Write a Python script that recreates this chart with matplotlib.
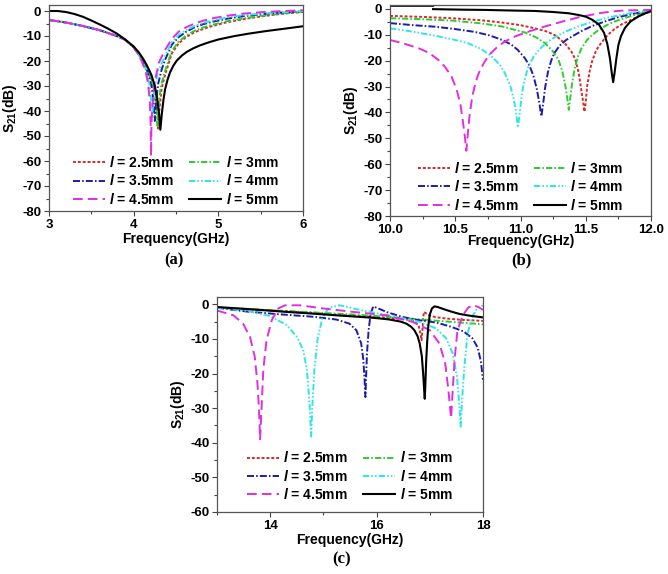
import numpy as np
import matplotlib
matplotlib.use('Agg')
import matplotlib.pyplot as plt
from matplotlib.ticker import MultipleLocator, FormatStrFormatter

# curve labels / looks (same order in every panel)
lengths = ['2.5mm', '3mm', '3.5mm', '4mm', '4.5mm', '5mm']
colors = ['#D42A2A', '#2ECC2E', '#1C1CA8', '#2EE6E6', '#E02EE0', '#000000']
styles = [(0, (1.5, 1.0)), (0, (3.2, 1.1, 0.8, 1.1)), (0, (3.6, 1.1, 0.8, 1.1)),
          (0, (3.2, 1.1, 0.8, 1.1, 0.8, 1.1)), (0, (5.0, 2.6)), '-']

# ---- panel (a): 3-6 GHz, (freq GHz, S21 dB)
a_25 = [(3.0, -3.6), (3.2, -4.6), (3.4, -6.0), (3.6, -7.7), (3.8, -10.0), (3.9, -11.5), (4.0, -14.5),
        (4.06, -17.3), (4.1, -19.5), (4.17, -23.5), (4.23, -29), (4.27, -36), (4.29, -47), (4.305, -39),
        (4.33, -31), (4.37, -25.6), (4.45, -17), (4.53, -13), (4.62, -10.4), (4.72, -8.5), (4.82, -7.2),
        (4.92, -6.1), (5.1, -4.5), (5.31, -3.2), (5.5, -2.2), (5.71, -1.3), (5.85, -0.8), (6.0, -0.4)]
a_3 = [(3.0, -3.6), (3.2, -4.6), (3.4, -6.0), (3.6, -7.7), (3.8, -10.0), (3.9, -11.5), (4.0, -14.5),
       (4.06, -17.3), (4.1, -19.5), (4.17, -24), (4.23, -30), (4.265, -37), (4.28, -46), (4.295, -38),
       (4.32, -30), (4.37, -24), (4.45, -16), (4.53, -12.3), (4.62, -9.8), (4.72, -7.9), (4.82, -6.6),
       (4.92, -5.6), (5.1, -4.1), (5.31, -2.9), (5.5, -2.0), (5.71, -1.2), (5.85, -0.7), (6.0, -0.3)]
a_35 = [(3.0, -3.6), (3.2, -4.6), (3.4, -6.0), (3.6, -7.7), (3.8, -10.0), (3.9, -11.5), (4.0, -14.5),
        (4.06, -17.5), (4.1, -20), (4.16, -24), (4.21, -30), (4.235, -36), (4.25, -44), (4.265, -36),
        (4.29, -29), (4.33, -23.5), (4.37, -19.6), (4.45, -13.5), (4.53, -10.5), (4.62, -8.3), (4.72, -6.5),
        (4.82, -5.3), (4.92, -4.4), (5.1, -3.1), (5.31, -2.0), (5.5, -1.3), (5.71, -0.7), (5.85, -0.4), (6.0, -0.1)]
a_4 = [(3.0, -3.6), (3.2, -4.6), (3.4, -6.0), (3.6, -7.7), (3.8, -10.0), (3.9, -11.5), (4.0, -14.5),
       (4.06, -17.5), (4.1, -20), (4.15, -24), (4.19, -30), (4.21, -37), (4.22, -43), (4.23, -37),
       (4.25, -30), (4.29, -24), (4.37, -18), (4.45, -12.5), (4.53, -9.6), (4.62, -7.6), (4.72, -6.0),
       (4.82, -4.8), (4.92, -3.9), (5.1, -2.6), (5.31, -1.6), (5.5, -1.1), (5.71, -0.7), (5.85, -0.3), (6.0, 0.0)]
a_45 = [(3.0, -3.6), (3.2, -4.6), (3.4, -6.0), (3.6, -7.7), (3.8, -10.0), (3.9, -11.5), (4.0, -14.5),
        (4.06, -17.5), (4.1, -20.5), (4.14, -24), (4.17, -29), (4.19, -36), (4.2, -45), (4.205, -58),
        (4.21, -45), (4.22, -38), (4.25, -28), (4.3, -20.5), (4.37, -15.6), (4.45, -11.2), (4.53, -8.3),
        (4.62, -6.5), (4.72, -5.0), (4.82, -3.9), (4.92, -3.0), (5.1, -1.9), (5.31, -1.0), (5.5, -0.5),
        (5.71, -0.1), (6.0, 0.3)]
a_5 = [(3.0, 0.0), (3.1, 0.0), (3.2, -0.4), (3.3, -1.2), (3.4, -2.3), (3.5, -3.8), (3.6, -5.4), (3.7, -7.1),
       (3.8, -9.0), (3.9, -11.4), (4.0, -14.2), (4.06, -16.5), (4.11, -19), (4.16, -22), (4.21, -25.6),
       (4.25, -30), (4.28, -35.5), (4.30, -41), (4.315, -47.5), (4.33, -42), (4.35, -36), (4.37, -31.5),
       (4.40, -27.5), (4.43, -24.5), (4.47, -21.8), (4.51, -19.8), (4.57, -17.8), (4.63, -16.3), (4.7, -15),
       (4.78, -13.8), (4.88, -12.6), (5.0, -11.4), (5.18, -10.1), (5.35, -9.1), (5.57, -8.0), (5.8, -7.0),
       (6.0, -6.1)]

# ---- panel (b): 10-12 GHz
b_25 = [(10.0, -2.7), (10.25, -3.1), (10.47, -3.6), (10.7, -4.4), (10.86, -5.3), (11.0, -6.3), (11.11, -7.5),
        (11.2, -8.7), (11.27, -10.3), (11.34, -13.3), (11.39, -16.5), (11.42, -19.5), (11.445, -24.5),
        (11.465, -31), (11.48, -36), (11.49, -39.7), (11.50, -36), (11.51, -30), (11.53, -24), (11.55, -20),
        (11.58, -16), (11.62, -13), (11.67, -10), (11.72, -7.8), (11.78, -5.8), (11.85, -4.2), (11.92, -2.5),
        (12.0, -1.0)]
b_3 = [(10.0, -3.6), (10.25, -4.0), (10.47, -4.5), (10.7, -5.6), (10.86, -6.8), (11.04, -9.2), (11.12, -11),
       (11.19, -13.3), (11.25, -16.5), (11.29, -19.5), (11.32, -24), (11.345, -30), (11.36, -35), (11.37, -39),
       (11.38, -35), (11.395, -29), (11.415, -23), (11.44, -18.4), (11.47, -15), (11.51, -12), (11.55, -10),
       (11.6, -8.1), (11.66, -6.3), (11.72, -4.9), (11.8, -3.5), (11.88, -2.3), (11.95, -1.4), (12.0, -0.8)]
b_35 = [(10.0, -5.5), (10.18, -6.3), (10.35, -6.9), (10.5, -7.8), (10.65, -8.9), (10.76, -10.2), (10.86, -12.0),
        (10.93, -13.8), (10.98, -15.9), (11.03, -18.8), (11.07, -22), (11.1, -26), (11.125, -31), (11.145, -36.5),
        (11.16, -41.5), (11.175, -36), (11.19, -30), (11.21, -24.5), (11.235, -20), (11.26, -17), (11.3, -14.2),
        (11.35, -12), (11.4, -10.5), (11.47, -8.5), (11.55, -6.6), (11.65, -4.8), (11.75, -3.2), (11.87, -1.8),
        (12.0, -0.6)]
b_4 = [(10.0, -7.5), (10.15, -8.6), (10.35, -10.4), (10.5, -12), (10.6, -13.3), (10.7, -15.5), (10.78, -18.4),
       (10.84, -21.5), (10.88, -24.8), (10.92, -29.5), (10.945, -34), (10.965, -39.5), (10.98, -45.8),
       (10.995, -40), (11.01, -33), (11.03, -27.5), (11.06, -22.3), (11.1, -18.5), (11.14, -15.9), (11.2, -13),
       (11.27, -10.7), (11.35, -8.7), (11.44, -6.8), (11.55, -5.0), (11.65, -3.6), (11.8, -2.0), (11.9, -1.2),
       (12.0, -0.6)]
b_45 = [(10.0, -12), (10.1, -13.3), (10.22, -15.2), (10.3, -17), (10.37, -19.7), (10.42, -22.3), (10.47, -26),
        (10.51, -31), (10.54, -37), (10.56, -44), (10.575, -50), (10.585, -54.8), (10.595, -49), (10.61, -41),
        (10.63, -34), (10.655, -28.5), (10.68, -24.8), (10.72, -20.8), (10.76, -17.8), (10.82, -14.8),
        (10.88, -12.6), (10.96, -10.6), (11.06, -8.8), (11.18, -6.9), (11.32, -4.9), (11.45, -3.2), (11.6, -1.7),
        (11.7, -1.0), (11.8, -0.6), (12.0, -0.4)]
b_5 = [(10.0, 1.2), (10.33, 1.2), (np.nan, np.nan), (10.33, -0.1), (10.55, -0.3), (10.73, -0.4), (10.9, -0.6),
       (11.11, -0.8), (11.25, -1.2), (11.37, -1.7), (11.45, -2.4), (11.5, -3.0), (11.55, -4.2), (11.6, -6.0),
       (11.64, -9.2), (11.665, -13.5), (11.685, -19), (11.70, -25), (11.71, -28.3), (11.72, -25), (11.735, -19),
       (11.75, -14), (11.77, -10.5), (11.8, -7.4), (11.84, -5.0), (11.9, -3.0), (11.95, -1.8), (12.0, -0.9)]

# ---- panel (c): 13-18 GHz
c_25 = [(13.0, -1.0), (13.5, -1.4), (14.18, -1.9), (14.8, -2.5), (15.43, -3.2), (16.0, -3.7), (16.37, -4.1),
        (16.6, -4.5), (16.72, -5.0), (16.79, -6.2), (16.825, -8.5), (16.845, -10.4), (16.86, -8.0),
        (16.875, -4.0), (16.89, -2.2), (16.92, -2.5), (16.97, -3.1), (17.1, -3.7), (17.3, -4.1), (17.6, -4.5),
        (18.0, -4.8)]
c_3 = [(13.0, -0.9), (13.5, -1.3), (14.0, -1.7), (14.5, -2.1), (15.0, -2.5), (15.5, -2.9), (16.0, -3.4),
       (16.5, -4.0), (17.0, -4.6), (17.5, -5.2), (18.0, -5.8)]
c_35 = [(13.0, -1.0), (13.56, -2.1), (14.18, -2.9), (14.8, -3.6), (15.24, -4.4), (15.49, -5.6), (15.62, -7.5),
        (15.71, -11.3), (15.75, -16), (15.775, -22), (15.79, -26.8), (15.80, -22), (15.82, -14), (15.85, -7.5),
        (15.89, -2.5), (15.94, -0.6), (16.0, -1.0), (16.2, -2.3), (16.5, -3.7), (16.8, -4.6), (17.13, -5.3),
        (17.4, -6.5), (17.63, -7.8), (17.8, -9.8), (17.9, -12.5), (17.96, -16.5), (18.0, -21.8)]
c_4 = [(13.0, -1.0), (13.56, -1.9), (14.0, -3.4), (14.31, -6.0), (14.5, -9.4), (14.62, -13.2), (14.69, -19),
       (14.735, -27.6), (14.77, -38.2), (14.79, -30), (14.83, -19), (14.89, -10), (14.98, -4), (15.1, -1.0),
       (15.31, -0.3), (15.56, -1.2), (15.87, -2.2), (16.37, -3.6), (16.81, -5.1), (17.12, -7.0), (17.31, -9.9),
       (17.43, -14.2), (17.51, -20.9), (17.55, -28), (17.58, -35.3), (17.61, -27), (17.65, -18), (17.71, -8.4),
       (17.81, -3.2), (17.9, -0.9), (18.0, -0.4)]
c_45 = [(13.0, -1.8), (13.31, -3.2), (13.49, -5.6), (13.62, -9.4), (13.71, -15.2), (13.76, -22.8), (13.79, -30.5),
        (13.81, -39), (13.835, -31), (13.87, -19), (13.93, -10.4), (14.03, -4.6), (14.15, -1.2), (14.28, -0.3),
        (14.56, -0.3), (14.99, -1.2), (15.56, -2.2), (16.18, -3.2), (16.68, -5.1), (17.0, -7.5), (17.18, -11.3),
        (17.29, -17.1), (17.35, -24.8), (17.40, -32.9), (17.43, -25), (17.47, -15.2), (17.52, -7.5),
        (17.62, -3.2), (17.72, -1.0), (17.8, -0.3), (17.9, -0.7), (18.0, -1.6)]
c_5 = [(13.0, -0.8), (13.4, -1.2), (13.87, -1.7), (14.3, -2.2), (14.8, -2.7), (15.25, -3.2), (15.74, -3.7),
       (16.0, -4.0), (16.24, -4.4), (16.45, -5.0), (16.56, -5.6), (16.65, -6.5), (16.71, -7.5), (16.77, -9.2),
       (16.81, -11.3), (16.85, -15), (16.875, -20), (16.895, -25), (16.905, -27.3), (16.915, -24), (16.93, -17),
       (16.95, -11), (16.97, -6.5), (17.0, -3.0), (17.04, -1.2), (17.09, -0.6), (17.15, -0.8), (17.24, -1.3),
       (17.4, -2.1), (17.56, -2.8), (17.75, -3.3), (18.0, -3.8)]

plt.rcParams['font.family'] = 'Liberation Sans'
plt.rcParams['font.weight'] = 'bold'
plt.rcParams['axes.unicode_minus'] = False
plt.rcParams['mathtext.fontset'] = 'custom'
plt.rcParams['mathtext.default'] = 'bf'
plt.rcParams['mathtext.bf'] = 'Liberation Sans:bold'
plt.rcParams['mathtext.rm'] = 'Liberation Sans:bold'
plt.rcParams['mathtext.it'] = 'Liberation Sans:bold:italic'

W, H = 668, 574
fig = plt.figure(figsize=(W / 100, H / 100), dpi=100)


def px_axes(l, t, r, b):
    return fig.add_axes([l / W, 1 - b / H, (r - l) / W, (b - t) / H])


def draw(ax, curves, xlim, ylim, xmaj, xmin, ymaj, xfmt, leg_y, xpad):
    for data, c, ls, lab in zip(curves, colors, styles, lengths):
        d = np.array(data, dtype=float)
        ax.plot(d[:, 0], d[:, 1], color=c, ls=ls, lw=1.4 if ls != '-' else 1.5,
                label=r'$\mathit{l}$ = ' + lab)
    ax.set_xlim(*xlim)
    ax.set_ylim(*ylim)
    ax.xaxis.set_major_locator(MultipleLocator(xmaj))
    ax.xaxis.set_minor_locator(MultipleLocator(xmin))
    ax.yaxis.set_major_locator(MultipleLocator(ymaj))
    ax.yaxis.set_minor_locator(MultipleLocator(5))
    ax.xaxis.set_major_formatter(FormatStrFormatter(xfmt))
    ax.tick_params(which='major', length=3.5, width=0.8, color='#444444', labelsize=9.5, pad=2)
    ax.tick_params(which='minor', length=2, width=0.8, color='#444444')
    for sp in ax.spines.values():
        sp.set_color('#555555')
        sp.set_linewidth(0.9)
    ax.set_xlabel('Frequency(GHz)', fontsize=10, fontweight='bold', labelpad=xpad)
    ax.set_ylabel(r'S$_{21}$(dB)', fontsize=10, fontweight='bold', labelpad=2)
    h, l = ax.get_legend_handles_labels()
    order = [0, 2, 4, 1, 3, 5]
    ax.legend([h[i] for i in order], [l[i] for i in order], ncol=2, frameon=False,
              loc='lower center', bbox_to_anchor=(0.5, leg_y), fontsize=10,
              handlelength=2.3, handletextpad=0.3, columnspacing=1.1, labelspacing=0.25,
              borderpad=0, borderaxespad=0)


ax_a = px_axes(49, 5, 303, 211)
draw(ax_a, [a_25, a_3, a_35, a_4, a_45, a_5], (3, 6), (-80, 2.4), 1, 0.5, 10, '%g', 0.02, 1)
ax_b = px_axes(390, 5, 651, 216)
draw(ax_b, [b_25, b_3, b_35, b_4, b_45, b_5], (10, 12), (-80, 1.5), 0.5, 0.25, 10, '%.1f', 0.016, -1)
ax_c = px_axes(217, 297, 483, 512)
draw(ax_c, [c_25, c_3, c_35, c_4, c_45, c_5], (13, 18), (-60, 2.1), 2, 1, 10, '%g', 0.045, 1)

for txt, x, y in [('(a)', 174, 260), ('(b)', 521, 260), ('(c)', 342, 559)]:
    fig.text(x / W, 1 - y / H, txt, ha='center', va='center', fontsize=12,
             fontweight='bold', family='Liberation Serif')

fig.savefig('out.png', dpi=100)
